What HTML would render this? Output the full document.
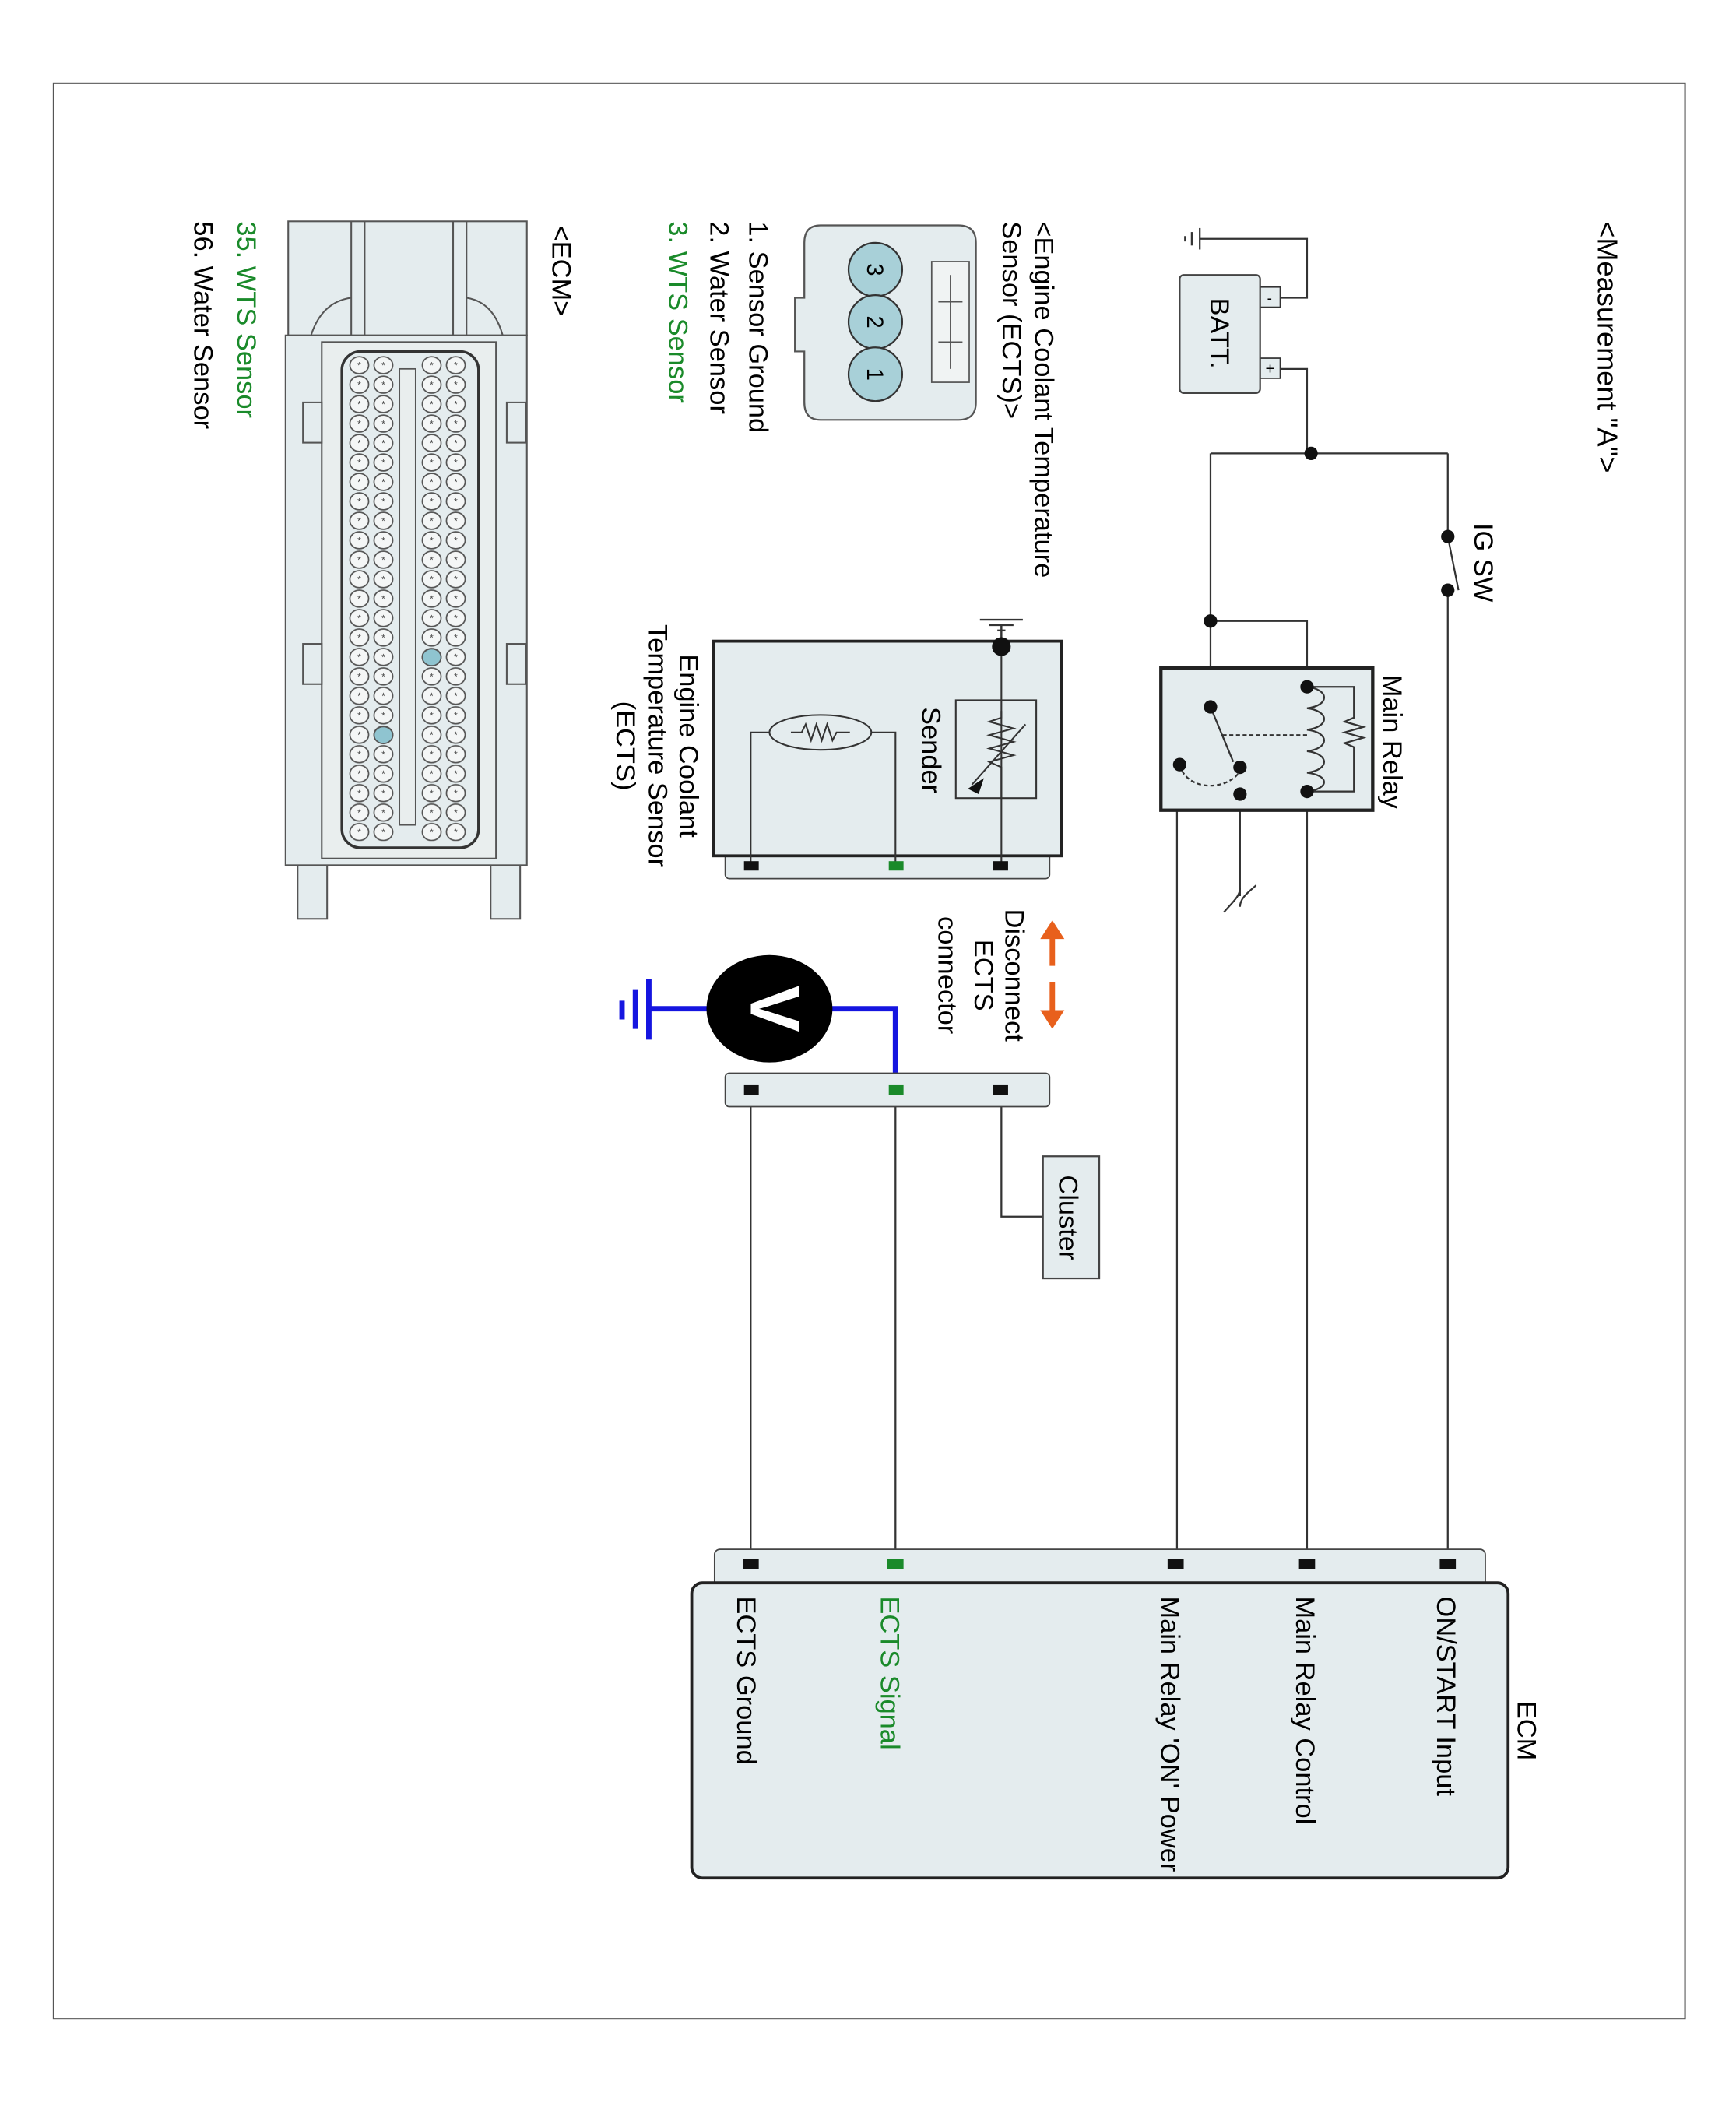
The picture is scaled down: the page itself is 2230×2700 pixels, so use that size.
<!DOCTYPE html>
<html><head><meta charset="utf-8"><style>html,body{margin:0;padding:0;background:#fff}svg{display:block}</style></head>
<body>
<svg width="2230" height="2700" viewBox="0 0 1295 1567" preserveAspectRatio="none" xmlns="http://www.w3.org/2000/svg" font-family="Liberation Sans, Arial, sans-serif">
<defs>
<pattern id="pins" x="7" y="265" width="18" height="14.5" patternUnits="userSpaceOnUse">
<ellipse cx="9" cy="7.25" rx="7" ry="6.3" fill="#f4f6f6" stroke="#555" stroke-width="1"/>
<text x="9" y="10" font-size="7" text-anchor="middle" fill="#444">*</text>
</pattern>
</defs>
<rect x="0" y="0" width="1295" height="1567" fill="#fff"/>
<rect x="40" y="62" width="1217" height="1443" fill="none" stroke="#555" stroke-width="1.2"/>

<g stroke="#333" stroke-width="1.3" fill="none">
<polyline points="895,178 975,178 975,222 955,222"/>
<polyline points="955,275 975,275 975,338"/>
<polyline points="903,338 1080,338"/>
<polyline points="1080,338 1080,400"/>
<line x1="1080" y1="400" x2="1088" y2="440"/>
<line x1="1080" y1="440" x2="1080" y2="1160"/>
<line x1="903" y1="338" x2="903" y2="527"/>
<polyline points="903,463 975,463 975,512"/>
<line x1="975" y1="590" x2="975" y2="1160"/>
<polyline points="925,592 878,592 878,1160"/>
<line x1="925" y1="592" x2="925" y2="668"/>
<path d="M913,680 C920,672 925,668 925,662 M925,676 C925,670 930,666 937,660"/>
<line x1="560" y1="812" x2="560" y2="1160"/>
<line x1="668" y1="812" x2="668" y2="1160"/>
<polyline points="747,812 747,907 778,907"/>
</g>

<g stroke="#333" stroke-width="1.3">
<line x1="895" y1="170" x2="895" y2="186"/>
<line x1="889" y1="173" x2="889" y2="183"/>
<line x1="884" y1="176" x2="884" y2="180"/>
</g>
<rect x="940" y="214" width="15" height="15" fill="#e4ecee" stroke="#333"/>
<rect x="940" y="267" width="15" height="15" fill="#e4ecee" stroke="#333"/>
<text x="947" y="226" font-size="11" text-anchor="middle">-</text>
<text x="947.5" y="279" font-size="12" text-anchor="middle">+</text>
<rect x="880" y="205" width="60" height="88" rx="3" fill="#e4ecee" stroke="#444" stroke-width="1.3"/>
<text transform="translate(903,222) rotate(90)" font-size="20">BATT.</text>

<g fill="#111">
<circle cx="978" cy="338" r="5"/>
<circle cx="1080" cy="400" r="5"/>
<circle cx="1080" cy="440" r="5"/>
<circle cx="903" cy="463" r="5"/>
</g>
<text transform="translate(1100,390) rotate(90)" font-size="20">IG SW</text>
<text transform="translate(1192,165) rotate(90)" font-size="21">&lt;Measurement "A"&gt;</text>

<rect x="866" y="498" width="158" height="106" fill="#e4ecee" stroke="#222" stroke-width="2.5"/>
<text transform="translate(1032,503) rotate(90)" font-size="20">Main Relay</text>
<g stroke="#333" stroke-width="1.3" fill="none">
<path d="M975,512 C992,514 992,526 975,528 C992,530 992,542 975,544 C992,546 992,558 975,560 C992,562 992,574 975,576 C992,578 992,588 975,590"/>
<polyline points="975,512 1010,512 1010,535 1003,538 1017,542 1003,546 1017,550 1003,554 1010,557 1010,590 975,590"/>
<line x1="903" y1="527" x2="920" y2="568"/>
<line x1="912" y1="548" x2="975" y2="548" stroke-dasharray="3,2"/>
<path d="M880,570 C885,590 915,590 925,575" stroke-dasharray="3,2"/>
</g>
<g fill="#111">
<circle cx="975" cy="512" r="5"/><circle cx="975" cy="590" r="5"/>
<circle cx="903" cy="527" r="5"/><circle cx="925" cy="572" r="5"/>
<circle cx="925" cy="592" r="5"/><circle cx="880" cy="570" r="5"/>
</g>

<rect x="541" y="632" width="242" height="23" rx="3" fill="#e4ecee" stroke="#444"/>
<rect x="532" y="478" width="260" height="160" fill="#e4ecee" stroke="#222" stroke-width="2.2"/>
<g stroke="#333" stroke-width="1.2" fill="none">
<line x1="747" y1="482" x2="747" y2="645"/>
<rect x="713" y="522" width="60" height="73"/>
<polyline points="747,530 747,535 738,538 756,543 738,548 756,553 738,558 756,563 738,568 747,572 747,595"/>
<line x1="765" y1="540" x2="725" y2="585"/>
<polyline points="560,645 560,546 668,546 668,645"/>
<ellipse cx="612" cy="546" rx="38" ry="13" fill="#e4ecee"/>
<polyline points="590,546 598,546 601,540 605,552 609,540 613,552 617,540 621,552 624,546 634,546"/>
</g>
<polygon points="722,588 734,580 730,592" fill="#111"/>
<g stroke="#333" stroke-width="1.4">
<line x1="747" y1="465" x2="747" y2="482"/>
<line x1="763" y1="462" x2="731" y2="462"/>
<line x1="756" y1="466" x2="738" y2="466"/>
<line x1="750" y1="470" x2="744" y2="470"/>
</g>
<circle cx="747" cy="482" r="7" fill="#111"/>
<rect x="555" y="642" width="11" height="7" fill="#111"/>
<rect x="663" y="642" width="11" height="7" fill="#1a8a2a"/>
<rect x="741" y="642" width="11" height="7" fill="#111"/>
<text transform="translate(688,527) rotate(90)" font-size="20">Sender</text>
<g font-size="20" text-anchor="middle">
<text transform="translate(507,556) rotate(90)">Engine Coolant</text>
<text transform="translate(484,556) rotate(90)">Temperature Sensor</text>
<text transform="translate(460,556) rotate(90)">(ECTS)</text>
</g>

<g fill="#e8601c" stroke="#e8601c" stroke-width="4">
<line x1="785" y1="698" x2="785" y2="720"/>
<line x1="785" y1="732" x2="785" y2="755"/>
</g>
<polygon points="785,686 776,700 794,700" fill="#e8601c"/>
<polygon points="785,767 776,753 794,753" fill="#e8601c"/>
<g font-size="20" text-anchor="middle">
<text transform="translate(750,727) rotate(90)">Disconnect</text>
<text transform="translate(727,727) rotate(90)">ECTS</text>
<text transform="translate(700,727) rotate(90)">connector</text>
</g>

<g stroke="#1515e0" stroke-width="4" fill="none">
<polyline points="620,752 668,752 668,812"/>
<line x1="528" y1="752" x2="484" y2="752"/>
<line x1="484" y1="730" x2="484" y2="775"/>
<line x1="474" y1="738" x2="474" y2="767"/>
<line x1="464" y1="746" x2="464" y2="760"/>
</g>
<ellipse cx="574" cy="752" rx="47" ry="40" fill="#000"/>
<text transform="translate(560,752) rotate(90)" font-size="52" font-weight="bold" fill="#fff" text-anchor="middle">V</text>

<rect x="541" y="800" width="242" height="25" rx="3" fill="#e4ecee" stroke="#444"/>
<rect x="555" y="809" width="11" height="7" fill="#111"/>
<rect x="663" y="809" width="11" height="7" fill="#1a8a2a"/>
<rect x="741" y="809" width="11" height="7" fill="#111"/>
<rect x="778" y="862" width="42" height="91" fill="#e4ecee" stroke="#444" stroke-width="1.3"/>
<text transform="translate(790,876) rotate(90)" font-size="20">Cluster</text>

<rect x="533" y="1155" width="575" height="30" rx="4" fill="#e4ecee" stroke="#444"/>
<rect x="516" y="1180" width="609" height="220" rx="8" fill="#e4ecee" stroke="#222" stroke-width="2.2"/>
<g fill="#111">
<rect x="554" y="1162" width="12" height="8"/>
<rect x="871" y="1162" width="12" height="8"/>
<rect x="969" y="1162" width="12" height="8"/>
<rect x="1074" y="1162" width="12" height="8"/>
</g>
<rect x="662" y="1162" width="12" height="8" fill="#1a8a2a"/>
<g font-size="20">
<text transform="translate(1072,1190) rotate(90)">ON/START Input</text>
<text transform="translate(967,1190) rotate(90)">Main Relay Control</text>
<text transform="translate(866,1190) rotate(90)">Main Relay 'ON' Power</text>
<text transform="translate(657,1190) rotate(90)" fill="#1a8a2a">ECTS Signal</text>
<text transform="translate(550,1190) rotate(90)">ECTS Ground</text>
<text transform="translate(1132,1268) rotate(90)">ECM</text>
</g>

<path d="M612,168 H715 Q728,168 728,181 V300 Q728,313 715,313 H612 Q600,313 600,300 V262 H593 V222 H600 V181 Q600,168 612,168 Z" fill="#e4ecee" stroke="#555" stroke-width="1.3"/>
<rect x="695" y="195" width="28" height="90" fill="#f0f3f3" stroke="#555"/>
<g stroke="#555"><line x1="700" y1="225" x2="718" y2="225"/><line x1="700" y1="255" x2="718" y2="255"/><line x1="709" y1="205" x2="709" y2="275"/></g>
<g fill="#a8d0d8" stroke="#333" stroke-width="1.3">
<circle cx="653" cy="201" r="20"/><circle cx="653" cy="240" r="20"/><circle cx="653" cy="279" r="20"/>
</g>
<g font-size="17" text-anchor="middle">
<text transform="translate(647,201) rotate(90)">3</text>
<text transform="translate(647,240) rotate(90)">2</text>
<text transform="translate(647,279) rotate(90)">1</text>
</g>
<g font-size="20">
<text transform="translate(772,165) rotate(90)">&lt;Engine Coolant Temperature</text>
<text transform="translate(748,165) rotate(90)">Sensor (ECTS)&gt;</text>
<text transform="translate(559,165) rotate(90)">1. Sensor Ground</text>
<text transform="translate(530,165) rotate(90)">2. Water Sensor</text>
<text transform="translate(499,165) rotate(90)" fill="#1a8a2a">3. WTS Sensor</text>
<text transform="translate(412,168) rotate(90)">&lt;ECM&gt;</text>
<text transform="translate(177,165) rotate(90)" fill="#1a8a2a">35. WTS Sensor</text>
<text transform="translate(145,165) rotate(90)">56. Water Sensor</text>
</g>

<g stroke="#555" stroke-width="1.2" fill="#e4ecee">
<rect x="222" y="640" width="22" height="45"/>
<rect x="366" y="640" width="22" height="45"/>
<rect x="215" y="165" width="178" height="85"/>
<rect x="213" y="250" width="180" height="395"/>
<rect x="240" y="255" width="130" height="385" fill="#e9eeee"/>
<rect x="255" y="262" width="102" height="370" rx="14" fill="#e4ecee" stroke="#333" stroke-width="2"/>
<rect x="226" y="300" width="14" height="30"/><rect x="226" y="480" width="14" height="30"/>
<rect x="378" y="300" width="14" height="30"/><rect x="378" y="480" width="14" height="30"/>
<line x1="262" y1="165" x2="262" y2="250"/><line x1="272" y1="165" x2="272" y2="250"/>
<line x1="338" y1="165" x2="338" y2="250"/><line x1="348" y1="165" x2="348" y2="250"/>
<path d="M232,250 Q240,225 262,222 M375,250 Q368,225 348,222" fill="none"/>
</g>
<rect x="298" y="275" width="12" height="340" fill="#e9eeee" stroke="#555"/>
<rect x="259" y="265" width="36" height="362" fill="url(#pins)"/>
<rect x="313" y="265" width="36" height="362" fill="url(#pins)"/>
<ellipse cx="322" cy="490" rx="7" ry="6.3" fill="#8fc4d0" stroke="#555"/>
<ellipse cx="286" cy="548" rx="7" ry="6.3" fill="#8fc4d0" stroke="#555"/>
</svg>
</body></html>
